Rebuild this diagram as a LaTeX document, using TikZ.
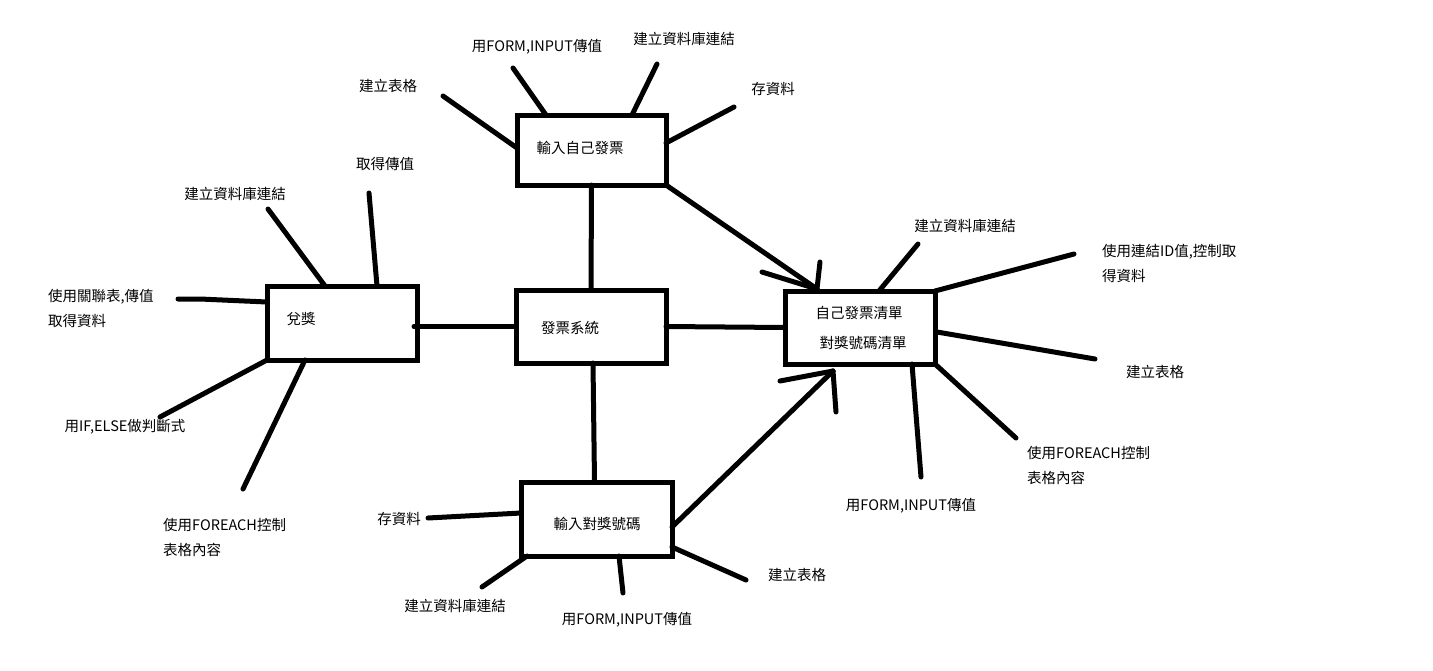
\documentclass[tikz,border=0pt]{standalone}
\usepackage{fontspec}
\newfontfamily\cjkfont{Noto Sans CJK TC}
\usetikzlibrary{calc}
\begin{document}
\begin{tikzpicture}[x=1pt,y=-1pt,
  box/.style={draw,line width=5pt,inner sep=0pt,outer sep=0pt,line join=miter},
  wire/.style={line width=5pt,line cap=round,line join=round},
  lbl/.style={font=\cjkfont\fontsize{14.5}{25}\selectfont,inner sep=0pt,align=left}]
\useasboundingbox[fill=white] (0,0) rectangle (1433,670);

% main boxes
\node[box,minimum width=149pt,minimum height=70pt] (inv) at (591.5,150) {};
\node[box,minimum width=150pt,minimum height=74pt] (dui) at (342,323) {};
\node[box,minimum width=150pt,minimum height=73pt] (sys) at (591,326.5) {};
\node[box,minimum width=150pt,minimum height=73pt] (lst) at (860,327.5) {};
\node[box,minimum width=151pt,minimum height=74pt] (num) at (596.5,519) {};

% box captions
\node[lbl] (tinv) at (580,148) {輸入自己發票};
\node[lbl] (tdui) at (301,319) {兌獎};
\node[lbl] (tsys) at (570,328) {發票系統};
\node[lbl,align=center,font=\cjkfont\fontsize{14.5}{30}\selectfont] (tlst) at (859,328) {自己發票清單\\\hspace*{8pt}對獎號碼清單};
\node[lbl] (tnum) at (597,524) {輸入對獎號碼};

% links between the boxes
\draw[wire] (inv.south) -- (sys.north);
\draw[wire] ($(sys.south)+(2,0)$) -- ($(num.north)+(-2,0)$);
\draw[wire] (sys.west) -- ($(sys.west -| dui.east)+(-3,0)$);
\draw[wire] (sys.east) -- (lst.west);

% hand-drawn arrows into the list box
\coordinate (tipA) at (817,289);
\coordinate (a1) at (762,272);
\coordinate (a2) at (820,262);
\draw[wire] (inv.south east) -- (tipA);
\draw[wire] (a1) -- (tipA);
\draw[wire] (a2) -- (tipA);
\coordinate (tipB) at (833,371);
\coordinate (b1) at (780,381);
\coordinate (b2) at (836,412);
\draw[wire] ($(num.north east)+(0,45)$) -- (tipB);
\draw[wire] (b1) -- (tipB);
\draw[wire] (b2) -- (tipB);

% notes around 輸入自己發票
\node[lbl] (n1) at (388,86) {建立表格};
\node[lbl] (n2) at (537,47) {用FORM,INPUT傳值};
\node[lbl] (n3) at (684,39) {建立資料庫連結};
\node[lbl] (n4) at (773,89) {存資料};
\coordinate (e1) at (443,96);
\coordinate (e2) at (513,68);
\coordinate (e3) at (657,64);
\coordinate (e4) at (734,107);
\draw[wire] (e1) -- ($(inv.north west)+(0,33)$);
\draw[wire] (e2) -- ($(inv.north west)+(29,0)$);
\draw[wire] (e3) -- ($(inv.north west)+(115,0)$);
\draw[wire] (e4) -- ($(inv.north east)+(0,28)$);

% notes around 兌獎
\node[lbl] (n5) at (235,194) {建立資料庫連結};
\node[lbl] (n6) at (385,164) {取得傳值};
\node[lbl,anchor=west] (n7) at (48,308.5) {使用關聯表,傳值\\取得資料};
\node[lbl] (n8) at (125,427) {用IF,ELSE做判斷式};
\node[lbl,anchor=west] (n9) at (163,537.5) {使用FOREACH控制\\表格內容};
\coordinate (e5) at (268,209);
\coordinate (e6) at (369,193);
\coordinate (e7) at (178,299);
\coordinate (e7b) at (200,299);
\coordinate (e8) at (160,417);
\coordinate (e9) at (243,489);
\draw[wire] (e5) -- ($(dui.north west)+(58,0)$);
\draw[wire] (e6) -- ($(dui.north west)+(110,0)$);
\draw[wire] (e7) -- (e7b) -- ($(dui.north west)+(0,16)$);
\draw[wire] (e8) -- (dui.south west);
\draw[wire] (e9) -- ($(dui.south west)+(38,0)$);

% notes around the list box
\node[lbl] (n10) at (965,226) {建立資料庫連結};
\node[lbl,anchor=west] (n11) at (1102,263.5) {使用連結ID值,控制取\\得資料};
\node[lbl] (n12) at (1155,372) {建立表格};
\node[lbl,anchor=west] (n13) at (1027,465.5) {使用FOREACH控制\\表格內容};
\node[lbl] (n14) at (911,506) {用FORM,INPUT傳值};
\coordinate (e10) at (918,244);
\coordinate (e11) at (1074,254);
\coordinate (e12) at (1095,359);
\coordinate (e13) at (1016,438);
\coordinate (e14) at (921,477);
\draw[wire] (e10) -- ($(lst.north west)+(94,0)$);
\draw[wire] (e11) -- (lst.north east);
\draw[wire] (e12) -- ($(lst.north east)+(2,41)$);
\draw[wire] (e13) -- (lst.south east);
\draw[wire] (e14) -- ($(lst.south west)+(127,0)$);

% notes around 輸入對獎號碼
\node[lbl] (n15) at (399,519) {存資料};
\node[lbl] (n16) at (455,606) {建立資料庫連結};
\node[lbl] (n17) at (627,620) {用FORM,INPUT傳值};
\node[lbl] (n18) at (797,575) {建立表格};
\coordinate (e15) at (428,518);
\coordinate (e16) at (482,587);
\coordinate (e17) at (623,593);
\coordinate (e18) at (746,580);
\draw[wire] (e15) -- ($(num.north west)+(0,31)$);
\draw[wire] (e16) -- ($(num.south west)+(6,0)$);
\draw[wire] (e17) -- ($(num.south west)+(98,0)$);
\draw[wire] (e18) -- ($(num.south east)+(0,-9)$);
\end{tikzpicture}
\end{document}
